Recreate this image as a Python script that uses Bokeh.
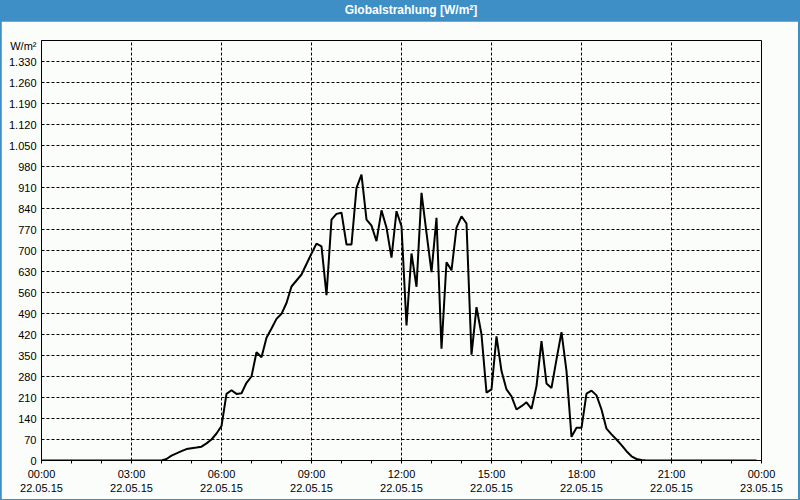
from bokeh.plotting import figure
from bokeh.models import FixedTicker, Div, Range1d, ColumnDataSource
from bokeh.layouts import column
from bokeh.embed import file_html
from bokeh.resources import INLINE

BLUE = "#3d8fc6"
BG = "#fbfdfb"
FONT = "Liberation Sans"

# 10-minute samples, 22.05.15 00:00 .. 23:50 (minutes since midnight)
minutes = list(range(0, 1440, 10))
# Global radiation in W/m2
values = [0] * 25 + [
    5, 16, 24, 31, 38, 41, 43, 46, 57, 70, 90, 115,
    222, 234, 222, 224, 259, 280, 361, 344, 409, 440, 472, 489,
    525, 580, 600, 620, 655, 690, 723, 714, 551, 803, 822, 826,
    720, 720, 909, 953, 803, 783, 731, 834, 776, 676, 831, 781,
    450, 690, 579, 892, 759, 628, 809, 373, 661, 634, 776, 814,
    790, 353, 511, 420, 226, 237, 414, 298, 237, 214, 170, 181,
    194, 172, 248, 398, 257, 242, 337, 428, 298, 79, 109, 109,
    223, 233, 217, 170, 106, 87, 70, 51, 31, 14, 5, 2,
] + [0] * 23

x_ticks = [0, 3, 6, 9, 12, 15, 18, 21, 24]
x_tick_labels = ["00:00\n22.05.15", "03:00\n22.05.15", "06:00\n22.05.15",
                 "09:00\n22.05.15", "12:00\n22.05.15", "15:00\n22.05.15",
                 "18:00\n22.05.15", "21:00\n22.05.15", "00:00\n23.05.15"]
x_minor = [1, 2, 4, 5, 7, 8, 10, 11, 13, 14, 16, 17, 19, 20, 22, 23]

y_ticks = [0, 70, 140, 210, 280, 350, 420, 490, 560, 630, 700, 770, 840,
           910, 980, 1050, 1120, 1190, 1260, 1330]
y_tick_labels = ["0", "70", "140", "210", "280", "350", "420", "490", "560",
                 "630", "700", "770", "840", "910", "980", "1.050", "1.120",
                 "1.190", "1.260", "1.330"]
unit_label = "W/m²"
unit_pos = 1383
title_text = "Globalstrahlung [W/m²]"

hours = [m / 60 for m in minutes]
src = ColumnDataSource(dict(x=hours, y=values))

p = figure(width=797, height=478, output_backend="svg", toolbar_location=None,
           x_range=Range1d(0, 24), y_range=Range1d(0, 1400),
           min_border_left=40, min_border_right=37, min_border_top=19,
           min_border_bottom=39, background_fill_color=BG,
           border_fill_color=BG, margin=(0, 2, 1, 1))
p.outline_line_color = "black"
p.outline_line_alpha = 1.0

p.line("x", "y", source=src, line_color="black", line_width=2)

# x axis
xa = p.xaxis[0]
xa.ticker = FixedTicker(ticks=x_ticks, minor_ticks=x_minor)
xa.major_label_overrides = {t: l for t, l in zip(x_ticks, x_tick_labels)}
xa.major_tick_out = 3
xa.major_tick_in = 0
xa.minor_tick_out = 3
xa.minor_tick_in = 0
xa.major_label_standoff = 4
xa.axis_line_color = "black"
xa.major_tick_line_color = "black"
xa.minor_tick_line_color = "black"
xa.major_label_text_font = FONT
xa.major_label_text_font_size = "11px"
xa.major_label_text_color = "black"

# y axis
ya = p.yaxis[0]
ya.ticker = FixedTicker(ticks=y_ticks + [unit_pos])
ov = {t: l for t, l in zip(y_ticks, y_tick_labels)}
ov[unit_pos] = unit_label
ya.major_label_overrides = ov
ya.major_tick_out = 0
ya.major_tick_in = 0
ya.minor_tick_out = 0
ya.minor_tick_in = 0
ya.major_label_standoff = 5
ya.axis_line_color = "black"
ya.major_label_text_font = FONT
ya.major_label_text_font_size = "11px"
ya.major_label_text_color = "black"

# grids
p.xgrid.ticker = FixedTicker(ticks=x_ticks[1:-1])
p.ygrid.ticker = FixedTicker(ticks=y_ticks[1:])
for g in (p.xgrid[0], p.ygrid[0]):
    g.grid_line_color = "black"
    g.grid_line_dash = "3 2"
    g.grid_line_width = 1
    g.grid_line_alpha = 1.0

title = Div(
    text=('<div style="box-sizing:border-box;width:800px;padding-left:22px;'
          'height:21px;line-height:21px;text-align:center;color:white;'
          'font-weight:bold;font-size:12px;font-family:\'Liberation Sans\';">'
          + title_text + '</div>'),
    width=800, height=21, margin=(0, 0, 0, 0),
    styles={"background-color": BLUE})

layout = column(title, p, spacing=0, margin=(0, 0, 0, 0),
                styles={"background-color": BLUE})

open("out.html", "w").write(file_html(layout, INLINE))
